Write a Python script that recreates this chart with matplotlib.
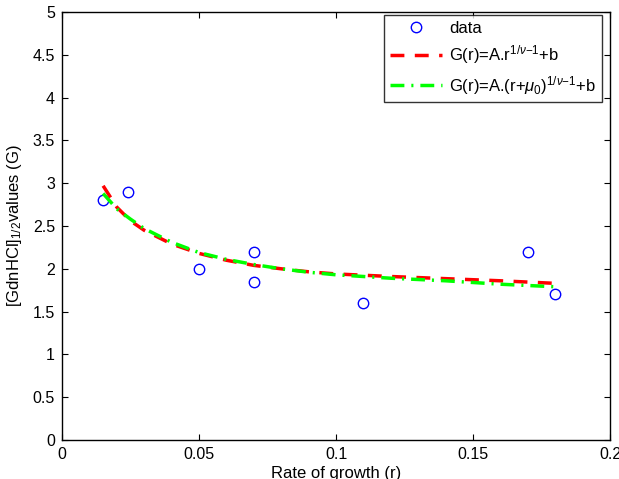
import matplotlib
matplotlib.use("Agg")
import matplotlib.pyplot as plt

plt.rcParams['font.family'] = ['Liberation Sans', 'DejaVu Sans']
plt.rcParams['mathtext.fontset'] = 'custom'
plt.rcParams['mathtext.rm'] = 'Liberation Sans'
plt.rcParams['mathtext.it'] = 'Liberation Sans:italic'
plt.rcParams['mathtext.sf'] = 'Liberation Sans'

# data
rate = [0.015, 0.024, 0.050, 0.070, 0.070, 0.110, 0.170, 0.180]
gvals = [2.80, 2.90, 2.00, 2.20, 1.85, 1.60, 2.20, 1.70]

# fitted curves
fit_r = [0.015, 0.02, 0.025, 0.03, 0.04, 0.05, 0.06, 0.07, 0.08, 0.09,
         0.10, 0.12, 0.14, 0.16, 0.18]
fit1_g = [2.97, 2.72, 2.56, 2.45, 2.29, 2.18, 2.10, 2.04, 2.00, 1.965,
          1.94, 1.91, 1.885, 1.86, 1.83]
fit2_g = [2.88, 2.70, 2.58, 2.47, 2.31, 2.19, 2.11, 2.05, 2.00, 1.96,
          1.93, 1.89, 1.86, 1.82, 1.79]

xticks = [0, 0.05, 0.1, 0.15, 0.2]
xticklabels = ['0', '0.05', '0.1', '0.15', '0.2']
yticks = [0, 0.5, 1, 1.5, 2, 2.5, 3, 3.5, 4, 4.5, 5]
yticklabels = ['0', '0.5', '1', '1.5', '2', '2.5', '3', '3.5', '4', '4.5', '5']

FS_TICK = 11.5
FS = 12

fig = plt.figure(figsize=(6.19, 4.79), dpi=100)
ax = fig.add_axes([62/619, 39/479, 548/619, 428/479])

ax.plot(rate, gvals, 'o', markerfacecolor='none', markeredgecolor='#0000ff',
        markersize=7.5, markeredgewidth=1.0, label='data')
ax.plot(fit_r, fit1_g, color='#ff0000', lw=2.5, dashes=(4, 3),
        label=r'G(r)=A.r$^{1/\nu\mathrm{-}1}$+b')
ax.plot(fit_r, fit2_g, color='#00ff00', lw=2.5, dashes=(4, 2, 0.6, 2),
        label=r'G(r)=A.(r+$\mu_0$)$^{1/\nu\mathrm{-}1}$+b')

ax.set_xlim(0, 0.2)
ax.set_ylim(0, 5)
ax.set_xticks(xticks)
ax.set_xticklabels(xticklabels)
ax.set_yticks(yticks)
ax.set_yticklabels(yticklabels)
ax.tick_params(direction='in', top=True, right=True, labelsize=FS_TICK,
               length=4, width=0.8, pad=5)
for s in ax.spines.values():
    s.set_linewidth(1.0)

ax.set_xlabel('Rate of growth (r)', fontsize=FS, labelpad=3)
ax.set_ylabel(r'[GdnHCl]$_{1/2}$values (G)', fontsize=FS, labelpad=6)

leg = ax.legend(loc='upper right', fontsize=FS, frameon=True, fancybox=False,
                edgecolor='black', handlelength=3.1, handletextpad=0.45,
                borderpad=0.35, labelspacing=0.45, borderaxespad=0,
                bbox_to_anchor=(0.985, 0.993))
leg.get_frame().set_linewidth(1.0)

fig.savefig('out.png', dpi=100)
